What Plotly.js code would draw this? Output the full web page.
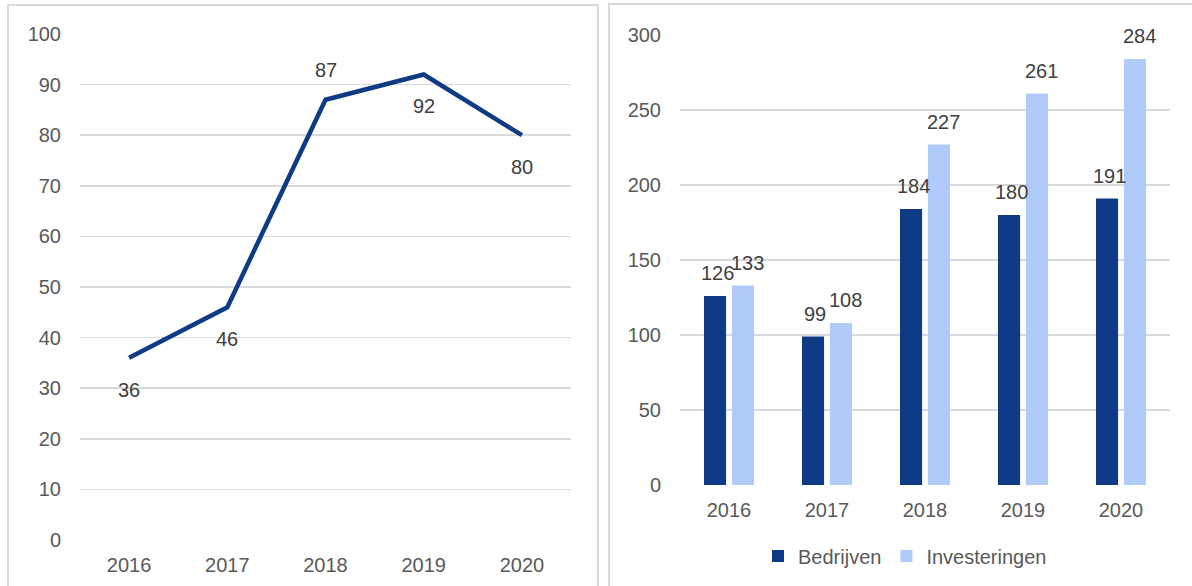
<!DOCTYPE html>
<html><head><meta charset="utf-8">
<script src="https://cdn.plot.ly/plotly-3.0.1.min.js"></script>
<style>html,body{margin:0;padding:0;background:#fff}#c{width:1192px;height:586px}</style>
</head><body><div id="c"></div>
<script>
const years = ['2016','2017','2018','2019','2020'];
const lineValues = [36, 46, 87, 92, 80];
const lineLabelPos = ['below','below','above','below','below'];
const bedrijven = [126, 99, 184, 180, 191];
const investeringen = [133, 108, 227, 261, 284];

const W = 1192, H = 586;
const px = v => v / W;
const py = v => (H - v) / H;
const FONT = 'Liberation Sans, Arial, sans-serif';
const FS = 20;
const DARK = '#0E3A86';
const LIGHT = '#AECBFA';
const GRID = '#D9D9D9';
const LBL = '#404040';
const TICK = '#595959';

const traces = [
  {type:'scatter', mode:'lines', x:years, y:lineValues, xaxis:'x', yaxis:'y',
   line:{color:DARK, width:4.5}, showlegend:false, hoverinfo:'skip'},
  {type:'bar', name:'Bedrijven', x:years, y:bedrijven, xaxis:'x2', yaxis:'y2',
   marker:{color:DARK}},
  {type:'bar', name:'Investeringen', x:years, y:investeringen, xaxis:'x2', yaxis:'y2',
   marker:{color:LIGHT}}
];

const annotations = [];
years.forEach((yr, i) => {
  annotations.push({x:i, y:lineValues[i], xref:'x', yref:'y', text:String(lineValues[i]),
    showarrow:false, yshift: lineLabelPos[i]==='above' ? 30 : -32,
    font:{family:FONT, size:FS, color:LBL}});
  annotations.push({x:i, y:bedrijven[i], xref:'x2', yref:'y2', text:String(bedrijven[i]),
    showarrow:false, xshift:-12, yshift:23, font:{family:FONT, size:FS, color:LBL}});
  annotations.push({x:i, y:investeringen[i], xref:'x2', yref:'y2', text:String(investeringen[i]),
    showarrow:false, xshift:18, yshift:23, font:{family:FONT, size:FS, color:LBL}});
});

const axX = {type:'category', range:[-0.5, 4.5], autorange:false, showgrid:false, zeroline:false,
  showline:false, ticks:'', tickfont:{family:FONT, size:FS, color:TICK}, fixedrange:true};
const axY = {showgrid:true, gridcolor:GRID, gridwidth:1.5, zeroline:false, showline:false, ticks:'',
  tickfont:{family:FONT, size:FS, color:TICK}, fixedrange:true};

const layout = {
  width:W, height:H, margin:{l:0,r:0,t:0,b:0},
  paper_bgcolor:'#fff', plot_bgcolor:'rgba(0,0,0,0)',
  font:{family:FONT, color:TICK},
  xaxis: Object.assign({}, axX, {domain:[px(80), px(571)], anchor:'y', ticklabelstandoff:11}),
  yaxis: Object.assign({}, axY, {domain:[py(540), py(34)], anchor:'x', range:[0,100], dtick:10, ticklabelstandoff:18}),
  xaxis2: Object.assign({}, axX, {domain:[px(680), px(1170)], anchor:'y2', ticklabelstandoff:11}),
  yaxis2: Object.assign({}, axY, {domain:[py(485), py(35)], anchor:'x2', range:[0,300], dtick:50, ticklabelstandoff:18}),
  barmode:'group', bargap:0.43, bargroupgap:0.21,
  showlegend:true,
  legend:{orientation:'h', x:px(905), xanchor:'center', y:py(556), yanchor:'middle',
    font:{family:FONT, size:FS, color:TICK}, itemwidth:30, tracegroupgap:0},
  annotations: annotations,
  shapes:[
    {type:'rect', xref:'paper', yref:'paper', x0:px(8), x1:px(598), y0:-0.05, y1:py(5),
     line:{color:GRID, width:2}, layer:'below'},
    {type:'rect', xref:'paper', yref:'paper', x0:px(609), x1:px(1200), y0:-0.05, y1:py(4),
     line:{color:GRID, width:2}, layer:'below'}
  ]
};

Plotly.newPlot('c', traces, layout, {displayModeBar:false, staticPlot:true});
</script></body></html>
